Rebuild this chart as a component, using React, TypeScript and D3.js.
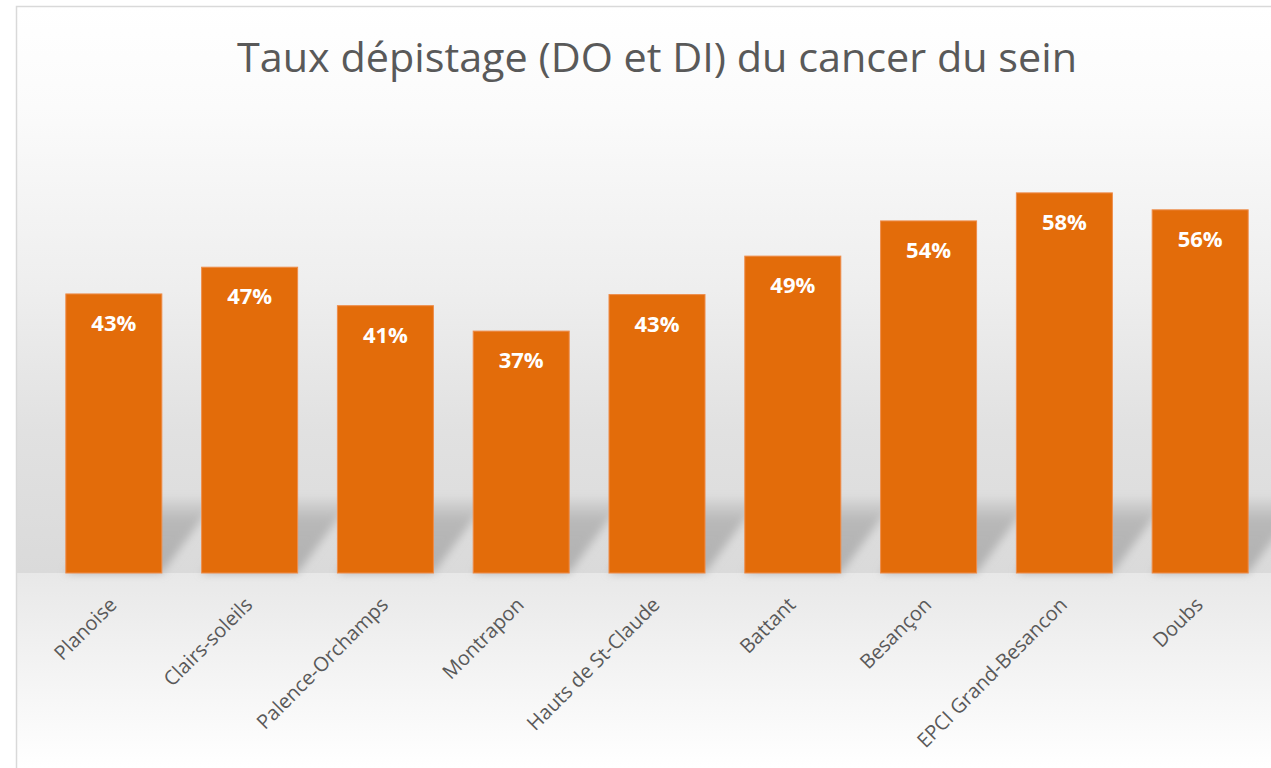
import React, { useEffect, useRef } from "react";
import * as d3 from "d3";

const categories = [
  "Planoise",
  "Clairs-soleils",
  "Palence-Orchamps",
  "Montrapon",
  "Hauts de St-Claude",
  "Battant",
  "Besançon",
  "EPCI Grand-Besancon",
  "Doubs",
];
const rates = [42.8, 46.9, 41.0, 37.1, 42.7, 48.6, 54.0, 58.3, 55.7];
const labels = ["43%", "47%", "41%", "37%", "43%", "49%", "54%", "58%", "56%"];
const title = "Taux dépistage (DO et DI) du cancer du sein";

export default function App() {
  const ref = useRef<SVGSVGElement | null>(null);

  useEffect(() => {
    const width = 1271;
    const height = 768;
    const svg = d3.select(ref.current as any);
    svg.selectAll("*").remove();
    svg.attr("width", width).attr("height", height);

    const baseY = 573;
    const data = categories.map((c, i) => ({ key: c, value: rates[i], label: labels[i] }));

    const x = d3.scaleBand().domain(categories).range([46, 1268]).paddingInner(0.293).paddingOuter(0.146);
    const y = d3.scaleLinear().domain([0, 70]).range([baseY, baseY - 70 * 6.52]);

    const defs = svg.append("defs");
    const bg = defs.append("linearGradient").attr("id", "bg").attr("x1", 0).attr("y1", 0).attr("x2", 0).attr("y2", 1);
    bg.append("stop").attr("offset", "0%").attr("stop-color", "#ffffff");
    bg.append("stop").attr("offset", "18%").attr("stop-color", "#fbfbfb");
    bg.append("stop").attr("offset", "50%").attr("stop-color", "#eeeeee");
    bg.append("stop").attr("offset", "75%").attr("stop-color", "#e1e1e1");
    bg.append("stop").attr("offset", "100%").attr("stop-color", "#dadada");

    const floor = defs.append("linearGradient").attr("id", "floor").attr("x1", 0).attr("y1", 0).attr("x2", 0).attr("y2", 1);
    floor.append("stop").attr("offset", "0%").attr("stop-color", "#e8e8e8");
    floor.append("stop").attr("offset", "100%").attr("stop-color", "#ffffff");

    const sh = defs.append("linearGradient").attr("id", "sh").attr("x1", 0).attr("y1", 0).attr("x2", 0).attr("y2", 1);
    sh.append("stop").attr("offset", "0%").attr("stop-color", "#b4b4b4").attr("stop-opacity", 0.2);
    sh.append("stop").attr("offset", "30%").attr("stop-color", "#b4b4b4").attr("stop-opacity", 0.9);
    sh.append("stop").attr("offset", "100%").attr("stop-color", "#b0b0b0").attr("stop-opacity", 1);

    const blur = defs.append("filter").attr("id", "blur").attr("x", "-20%").attr("y", "-20%").attr("width", "140%").attr("height", "140%");
    blur.append("feGaussianBlur").attr("stdDeviation", 4);

    // chart area
    svg.append("rect").attr("x", 0).attr("y", 0).attr("width", width).attr("height", height).attr("fill", "#ffffff");
    svg.append("rect").attr("x", 16).attr("y", 6).attr("width", width).attr("height", baseY - 6).attr("fill", "url(#bg)");
    svg.append("rect").attr("x", 16).attr("y", baseY).attr("width", width).attr("height", height - baseY).attr("fill", "url(#floor)");
    svg.append("path").attr("d", `M16.5,${height} V6.5 H${width}`).attr("fill", "none").attr("stroke", "#d9d9d9").attr("stroke-width", 1.5);

    svg.append("text")
      .attr("x", 657)
      .attr("y", 72)
      .attr("text-anchor", "middle")
      .attr("fill", "#595959")
      .style("font-family", "'Open Sans', sans-serif")
      .style("font-size", "40px")
      .attr("textLength", 840)
      .attr("lengthAdjust", "spacingAndGlyphs")
      .text(title);

    const g = svg.append("g");

    // shadows cast by bars
    g.selectAll(".shadow")
      .data(data)
      .enter()
      .append("path")
      .attr("class", "shadow")
      .attr("d", d => {
        const x0 = x(d.key) || 0;
        const x1 = x0 + x.bandwidth();
        return `M${x0},${baseY} L${x1},${baseY} L${x1 + 55},${baseY - 74} L${x0 + 55},${baseY - 74} Z`;
      })
      .attr("fill", "url(#sh)")
      .attr("filter", "url(#blur)");

    g.selectAll(".bar")
      .data(data)
      .enter()
      .append("rect")
      .attr("class", "bar")
      .attr("x", d => x(d.key) || 0)
      .attr("y", d => y(d.value))
      .attr("width", x.bandwidth())
      .attr("height", d => baseY - y(d.value))
      .attr("fill", "#e36c0a")
      .attr("stroke", "#ee8c4a")
      .attr("stroke-width", 1);

    g.selectAll(".label")
      .data(data)
      .enter()
      .append("text")
      .attr("class", "label")
      .attr("x", d => (x(d.key) || 0) + x.bandwidth() / 2)
      .attr("y", d => y(d.value) + 37)
      .attr("text-anchor", "middle")
      .attr("fill", "#ffffff")
      .style("font-family", "'Open Sans', sans-serif")
      .style("font-weight", "bold")
      .style("font-size", "22px")
      .text(d => d.label);

    g.selectAll(".cat")
      .data(data)
      .enter()
      .append("text")
      .attr("class", "cat")
      .attr("transform", d => `translate(${(x(d.key) || 0) + x.bandwidth() / 2 + 4},${baseY + 33}) rotate(-45)`)
      .attr("text-anchor", "end")
      .attr("fill", "#595959")
      .style("font-family", "'Open Sans', sans-serif")
      .style("font-size", "20px")
      .text(d => d.key);
  }, []);

  return (
    <div style={{ position: "fixed", left: 0, top: 0 }}>
      <svg ref={ref} style={{ display: "block" }} />
    </div>
  );
}
